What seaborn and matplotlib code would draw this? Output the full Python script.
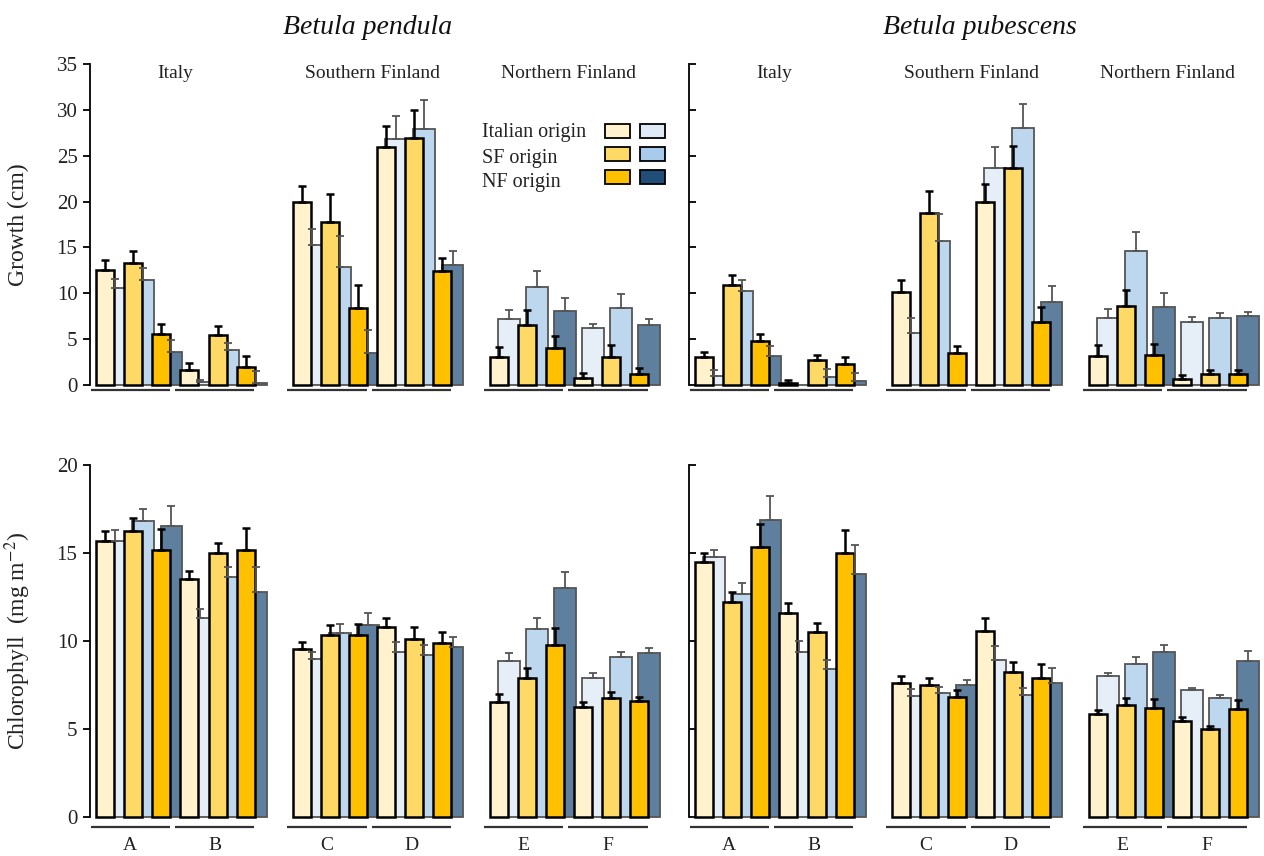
import numpy as np
import pandas as pd
import matplotlib
matplotlib.use("Agg")
import matplotlib.pyplot as plt
import matplotlib.transforms as mtransforms
from matplotlib.patches import Patch
import seaborn as sns

sns.set_theme(style="white")
plt.rcParams["font.family"] = ["Liberation Serif", "DejaVu Serif"]
plt.rcParams["mathtext.fontset"] = "stix"

species = ["Betula pendula", "Betula pubescens"]
sites = ["Italy", "Southern Finland", "Northern Finland"]
groups = ["A", "B", "C", "D", "E", "F"]
origins = ["Italian origin", "SF origin", "NF origin"]

# values: groups A..F, each with origins Italian, SF, NF
growth_pendula_yellow = [12.5, 13.3, 5.6, 1.6, 5.5, 2.0, 20.0, 17.8, 8.4,
                         25.9, 26.9, 12.4, 3.1, 6.5, 4.0, 0.8, 3.1, 1.2]
growth_pendula_yellow_err = [1.1, 1.35, 1.1, 0.8, 0.9, 1.2, 1.7, 3.0, 2.5,
                             2.3, 3.1, 1.5, 1.0, 1.7, 1.3, 0.5, 1.3, 0.6]
growth_pendula_blue = [10.6, 11.5, 3.6, 0.35, 3.8, 0.2, 15.3, 12.9, 3.5,
                       26.8, 27.9, 13.1, 7.2, 10.7, 8.1, 6.25, 8.4, 6.5]
growth_pendula_blue_err = [1.0, 1.3, 1.3, 0.2, 0.8, 1.3, 1.7, 3.3, 2.5,
                           2.5, 3.2, 1.5, 1.0, 1.7, 1.35, 0.45, 1.5, 0.7]

growth_pubescens_yellow = [3.1, 10.9, 4.8, 0.2, 2.7, 2.3, 10.1, 18.7, 3.5,
                           20.0, 23.7, 6.9, 3.2, 8.6, 3.3, 0.7, 1.2, 1.2]
growth_pubescens_yellow_err = [0.5, 1.1, 0.8, 0.3, 0.6, 0.7, 1.35, 2.4, 0.75,
                               1.9, 2.4, 1.6, 1.2, 1.8, 1.2, 0.4, 0.4, 0.4]
growth_pubescens_blue = [1.0, 10.3, 3.2, 0.0, 0.9, 0.4, 5.7, 15.7, 0.0,
                         23.7, 28.0, 9.0, 7.3, 14.6, 8.5, 6.9, 7.3, 7.5]
growth_pubescens_blue_err = [0.6, 1.2, 1.1, 0.0, 0.8, 0.9, 1.6, 2.95, 0.0,
                             2.2, 2.6, 1.8, 1.0, 2.1, 1.5, 0.55, 0.6, 0.5]

chl_pendula_yellow = [15.7, 16.25, 15.2, 13.5, 15.0, 15.2, 9.55, 10.35, 10.35,
                      10.8, 10.15, 9.9, 6.55, 7.9, 9.8, 6.25, 6.8, 6.6]
chl_pendula_yellow_err = [0.55, 0.75, 1.15, 0.5, 0.55, 1.25, 0.4, 0.55, 0.65,
                          0.5, 0.65, 0.6, 0.43, 0.6, 0.95, 0.3, 0.3, 0.25]
chl_pendula_blue = [15.7, 16.8, 16.55, 11.3, 13.65, 12.8, 9.0, 10.45, 10.9,
                    9.4, 9.2, 9.65, 8.85, 10.7, 13.0, 7.9, 9.1, 9.3]
chl_pendula_blue_err = [0.6, 0.7, 1.15, 0.5, 0.55, 1.4, 0.4, 0.5, 0.7,
                        0.55, 0.6, 0.6, 0.45, 0.6, 0.9, 0.3, 0.3, 0.3]

chl_pubescens_yellow = [14.5, 12.25, 15.35, 11.6, 10.5, 15.0, 7.6, 7.5, 6.85,
                        10.6, 8.25, 7.9, 5.85, 6.4, 6.2, 5.45, 5.0, 6.15]
chl_pubescens_yellow_err = [0.5, 0.55, 1.3, 0.55, 0.55, 1.3, 0.4, 0.4, 0.35,
                            0.7, 0.55, 0.8, 0.25, 0.35, 0.5, 0.25, 0.2, 0.5]
chl_pubescens_blue = [14.75, 12.7, 16.9, 9.4, 8.4, 13.8, 6.9, 7.05, 7.5,
                      8.95, 6.95, 7.65, 8.0, 8.7, 9.4, 7.2, 6.75, 8.85]
chl_pubescens_blue_err = [0.4, 0.6, 1.35, 0.6, 0.55, 1.65, 0.4, 0.35, 0.3,
                          0.75, 0.4, 0.85, 0.2, 0.4, 0.4, 0.15, 0.2, 0.6]

yellow_colors = ["#FFF2CC", "#FFD966", "#FFC000"]
blue_colors = ["#E6EEF8", "#BDD7EE", "#5F7F9E"]
legend_blue = ["#DEEBF7", "#A9CBEB", "#1F4E79"]

panels = [
    (0, 0, growth_pendula_yellow, growth_pendula_yellow_err, growth_pendula_blue, growth_pendula_blue_err),
    (0, 1, growth_pubescens_yellow, growth_pubescens_yellow_err, growth_pubescens_blue, growth_pubescens_blue_err),
    (1, 0, chl_pendula_yellow, chl_pendula_yellow_err, chl_pendula_blue, chl_pendula_blue_err),
    (1, 1, chl_pubescens_yellow, chl_pubescens_yellow_err, chl_pubescens_blue, chl_pubescens_blue_err),
]

W, H = 1264, 856
fig = plt.figure(figsize=(W / 100, H / 100), dpi=100)
fig.patch.set_facecolor("white")

row_geom = {0: (1 - 385 / H, 321 / H), 1: (1 - 817.3 / H, 352.3 / H)}
col_left = {0: 90 / W, 1: 689 / W}
ax_w = 573 / W
XLIM = (-0.54, 19.85)
BLUE_OFF = 0.36

def positions():
    pos = []
    for g in range(len(groups)):
        site = g // 2
        for o in range(len(origins)):
            pos.append(site * 7 + (g % 2) * 3 + o)
    return np.array(pos, dtype=float)

pos = positions()
org_col = [origins[i % 3] for i in range(18)]

for row, col, yv, ye, bv, be in panels:
    b, h = row_geom[row]
    ax = fig.add_axes([col_left[col], b, ax_w, h])
    ax.set_facecolor("white")
    dfb = pd.DataFrame({"x": pos + BLUE_OFF, "value": bv, "origin": org_col})
    dfy = pd.DataFrame({"x": pos, "value": yv, "origin": org_col})
    sns.barplot(data=dfb, x="x", y="value", hue="origin", hue_order=origins,
                palette=dict(zip(origins, blue_colors)), native_scale=True,
                dodge=False, width=0.78, errorbar=None, edgecolor="#555555",
                linewidth=1.3, legend=False, ax=ax, orient="x", clip_on=False,
                saturation=1)
    be_a = np.array(be)
    m = be_a > 0
    ax.errorbar((pos + BLUE_OFF)[m], np.array(bv)[m],
                yerr=[np.zeros(m.sum()), be_a[m]], fmt="none",
                ecolor="#555555", elinewidth=1.3, capsize=2.6, capthick=1.3)
    sns.barplot(data=dfy, x="x", y="value", hue="origin", hue_order=origins,
                palette=dict(zip(origins, yellow_colors)), native_scale=True,
                dodge=False, width=0.64, errorbar=None, edgecolor="black",
                linewidth=1.8, legend=False, ax=ax, orient="x", clip_on=False,
                saturation=1)
    ye_a = np.array(ye)
    m = ye_a > 0
    ax.errorbar(pos[m], np.array(yv)[m], yerr=[np.zeros(m.sum()), ye_a[m]],
                fmt="none", ecolor="black", elinewidth=1.8, capsize=2.6,
                capthick=1.8)

    ax.set_xlim(*XLIM)
    if row == 0:
        ax.set_ylim(0, 35)
        ax.set_yticks(np.arange(0, 36, 5))
    else:
        ax.set_ylim(0, 20)
        ax.set_yticks(np.arange(0, 21, 5))
    ax.set_xticks([])
    ax.set_xlabel("")
    ax.set_ylabel("")
    for s in ["top", "right", "bottom"]:
        ax.spines[s].set_visible(False)
    ax.spines["left"].set_color("black")
    ax.spines["left"].set_linewidth(1.3)
    if col == 0:
        ax.tick_params(axis="y", direction="out", length=5, width=1.3,
                       color="black", labelsize=15, labelcolor="#222222", pad=4,
                       left=True)
    else:
        ax.tick_params(axis="y", direction="in", length=5, width=1.3,
                       color="black", labelleft=False, left=True)

    # group underlines and letters
    trans = mtransforms.blended_transform_factory(ax.transData, ax.transAxes)
    yline = -5 / (321) if row == 0 else -9.4 / 352.3
    for g, grp in enumerate(groups):
        site = g // 2
        start = site * 7 + (g % 2) * 3 - 0.52
        end = site * 7 + (g % 2) * 3 + 2.3
        ax.plot([start, end], [yline, yline], color="#333333", lw=1.6,
                transform=trans, clip_on=False, solid_capstyle="butt")
        if row == 1:
            ax.text((start + end) / 2, -27.7 / 352.3, grp, transform=trans,
                    ha="center", va="center", fontsize=14, color="#222222")
    if row == 0:
        for s, site in enumerate(sites):
            ax.text(s * 7 + 2.5, (385 - 73) / 321, site, transform=trans,
                    ha="center", va="center", fontsize=14, color="#222222")
    if col == 0:
        if row == 0:
            ax.set_ylabel("Growth (cm)", fontsize=17, color="#222222")
        else:
            ax.set_ylabel(r"Chlorophyll  (mg m$^{-2}$)", fontsize=17, color="#222222")
        ax.yaxis.label.set_va("center")
        ax.yaxis.set_label_coords(-72 / 573, 0.5)

# species titles
fig.text(368 / W, 1 - 27 / H, species[0], style="italic", fontsize=20,
         ha="center", va="center", color="#111111")
fig.text(980 / W, 1 - 27 / H, species[1], style="italic", fontsize=20,
         ha="center", va="center", color="#111111")

# legend
handles = [Patch(facecolor=c, edgecolor="black", linewidth=1.3) for c in yellow_colors] + \
          [Patch(facecolor=c, edgecolor="black", linewidth=1.3) for c in legend_blue]
fs = 10
fig.legend(handles, [""] * 6, ncol=2, loc="upper left",
           bbox_to_anchor=(605 / W, 1 - 124 / H), frameon=False, borderpad=0,
           borderaxespad=0, fontsize=fs, handlelength=25 / 13.9,
           handleheight=17 / 13.9, handletextpad=0, columnspacing=10 / 13.9,
           labelspacing=8 / 13.9)
for i, lab in enumerate(origins):
    fig.text(482 / W, 1 - (133 + 25 * i) / H, lab, fontsize=14.5,
             ha="left", va="center", color="#222222")

fig.savefig("out.png", dpi=100, facecolor="white")
